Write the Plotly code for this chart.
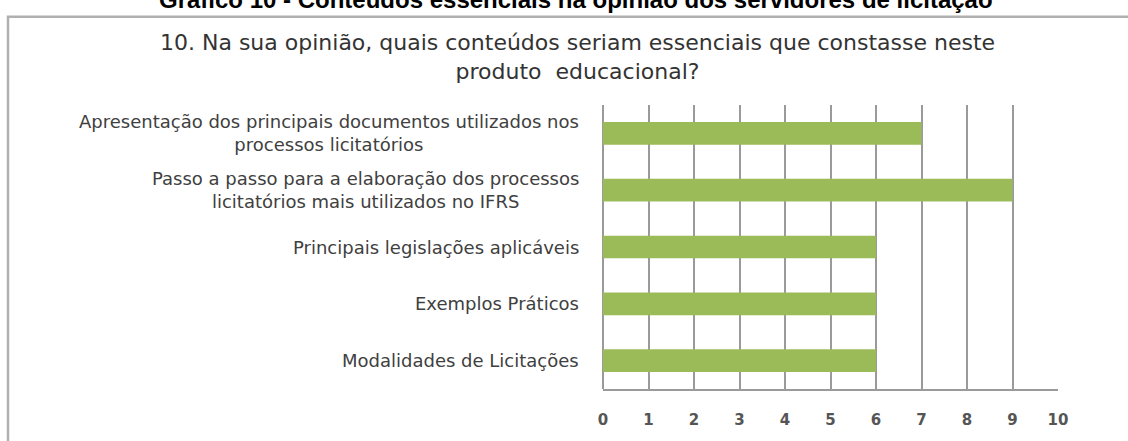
import plotly.graph_objects as go

categories = [
    "Apresentação dos principais documentos utilizados nos<br>processos licitatórios",
    "Passo a passo para a elaboração dos processos<br>licitatórios mais utilizados no IFRS",
    "Principais legislações aplicáveis",
    "Exemplos Práticos",
    "Modalidades de Licitações",
]
values = [7, 9, 6, 6, 6]
tick_vals = list(range(0, 11))
tick_text = [str(v) for v in tick_vals]

outer_title = "Gráfico 10 - Conteúdos essenciais na opinião dos servidores de licitação"
chart_title = "10. Na sua opinião, quais conteúdos seriam essenciais que constasse neste<br>produto  educacional?"

W, H = 1128, 441
L, R, T, B = 603, 70, 105, 37
pw, ph = W - L - R, H - T - B

def px(x):
    return (x - L) / pw

def py(y):
    return (H - B - y) / ph

fig = go.Figure()
fig.add_trace(go.Bar(
    y=categories, x=values, orientation="h",
    marker=dict(color="#9BBB59", line=dict(width=0)),
    hoverinfo="skip",
))

annotations = []
for c in categories:
    annotations.append(dict(
        xref="paper", yref="y", x=0, y=c, xanchor="right", yanchor="middle",
        xshift=-22, text=c, showarrow=False, align="center",
        font=dict(family="DejaVu Sans", size=18, color="#404040"),
    ))
annotations.append(dict(
    xref="paper", yref="paper", x=px(577), y=py(54), xanchor="center", yanchor="middle",
    text=chart_title, showarrow=False, align="center",
    font=dict(family="DejaVu Sans", size=22, color="#333333"),
))
annotations.append(dict(
    xref="paper", yref="paper", x=px(576), y=py(-6), xanchor="center", yanchor="middle",
    text="<b>" + outer_title + "</b>", showarrow=False, align="center",
    font=dict(family="Liberation Sans", size=24, color="#000000"),
))

fig.update_layout(
    width=W, height=H,
    margin=dict(l=L, r=R, t=T, b=B, pad=0),
    paper_bgcolor="white", plot_bgcolor="white",
    showlegend=False, bargap=0.6,
    annotations=annotations,
    shapes=[dict(
        type="rect", xref="paper", yref="paper", layer="below",
        x0=px(8), x1=px(1300), y0=py(600), y1=py(12),
        line=dict(color="#b0b0b0", width=2.5), fillcolor="rgba(0,0,0,0)",
    )],
    xaxis=dict(
        range=[0, 10], tickvals=tick_vals, ticktext=tick_text,
        showgrid=True, gridcolor="#9a9a9a", gridwidth=2,
        zeroline=True, zerolinecolor="#9a9a9a", zerolinewidth=2,
        showline=True, linecolor="#9a9a9a", linewidth=2,
        ticks="outside", ticklen=16, tickcolor="rgba(0,0,0,0)",
        tickfont=dict(family="DejaVu Sans", size=15, color="#555555", weight="bold"),
        fixedrange=True,
    ),
    yaxis=dict(
        autorange="reversed", showticklabels=False, showgrid=False,
        zeroline=False, showline=False, ticks="", fixedrange=True,
    ),
)

fig.write_html(
    "out.html",
    config={"displayModeBar": False},
    post_script="document.body.style.margin='0';document.body.style.overflow='hidden';",
)
